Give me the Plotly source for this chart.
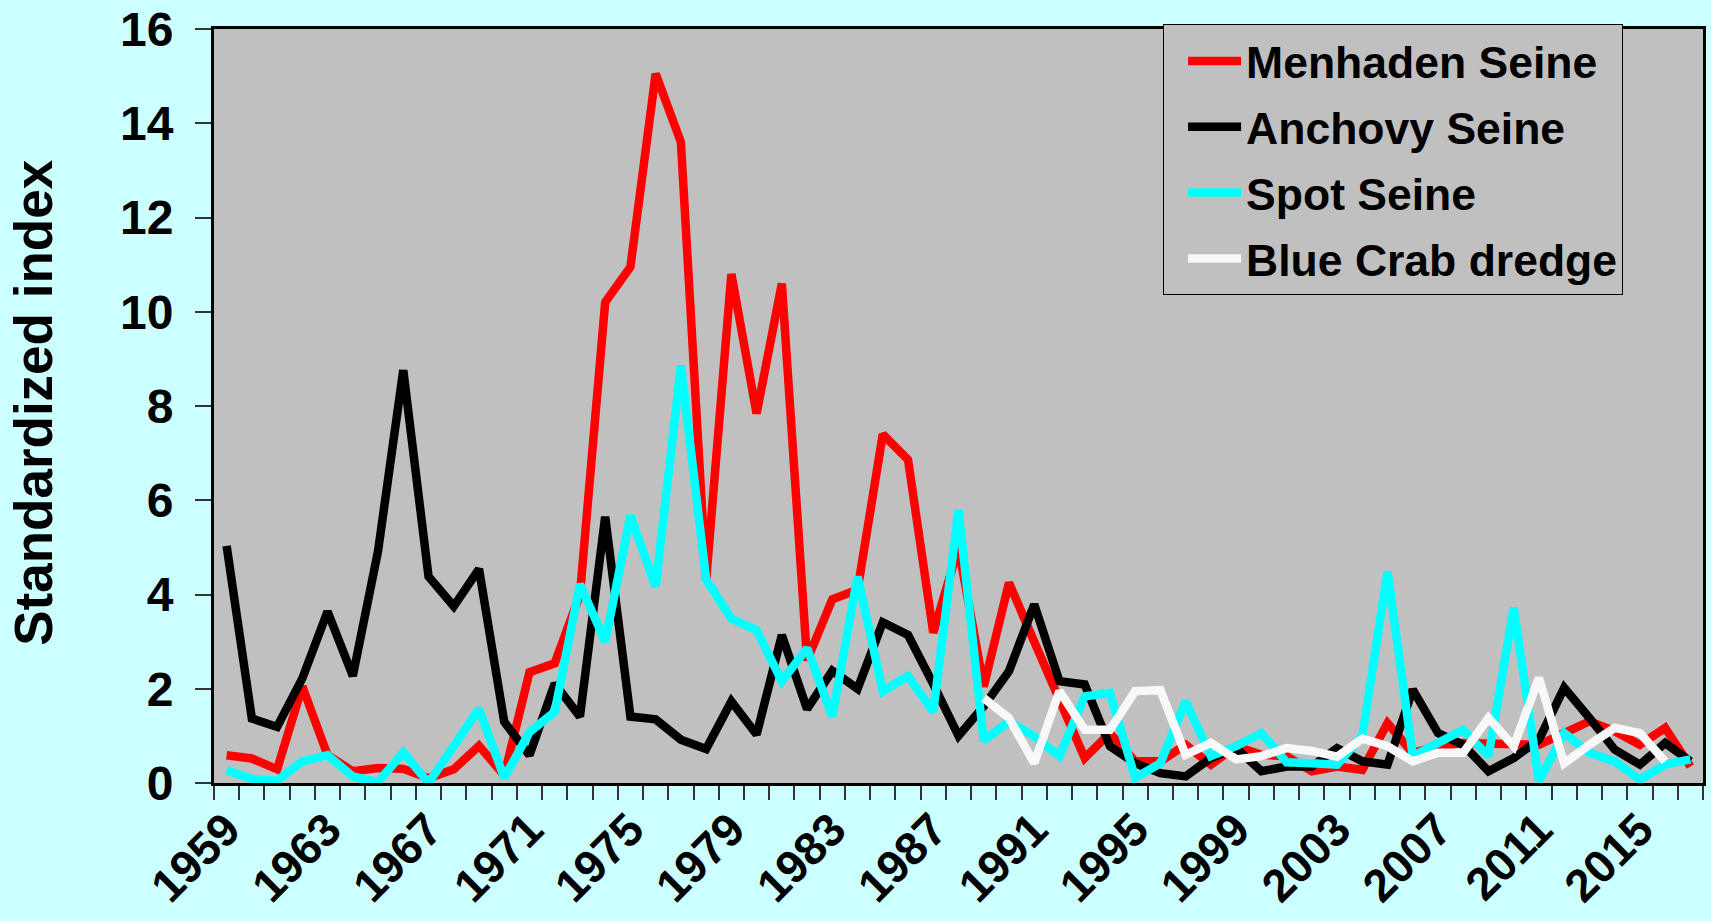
import plotly.graph_objects as go

years = [1959, 1960, 1961, 1962, 1963, 1964, 1965, 1966, 1967, 1968,
         1969, 1970, 1971, 1972, 1973, 1974, 1975, 1976, 1977, 1978,
         1979, 1980, 1981, 1982, 1983, 1984, 1985, 1986, 1987, 1988,
         1989, 1990, 1991, 1992, 1993, 1994, 1995, 1996, 1997, 1998,
         1999, 2000, 2001, 2002, 2003, 2004, 2005, 2006, 2007, 2008,
         2009, 2010, 2011, 2012, 2013, 2014, 2015, 2016, 2017]

menhaden = [0.59, 0.52, 0.29, 2.05, 0.59, 0.25, 0.32, 0.30, 0.10, 0.29,
            0.79, 0.16, 2.35, 2.54, 4.0, 10.2, 10.95, 15.05, 13.6, 4.3,
            10.8, 7.84, 10.6, 2.6, 3.9, 4.1, 7.4, 6.86, 3.19, 5.0,
            2.05, 4.25, 3.0, 1.8, 0.53, 1.06, 0.46, 0.46, 0.81, 0.39,
            0.78, 0.6, 0.57, 0.25, 0.35, 0.28, 1.27, 0.64, 0.78, 0.85,
            0.85, 0.85, 0.81, 1.06, 1.31, 1.1, 0.81, 1.17, 0.35]

anchovy = [5.03, 1.37, 1.19, 2.22, 3.64, 2.27, 4.92, 8.76, 4.38, 3.75,
           4.54, 1.30, 0.59, 2.11, 1.41, 5.65, 1.41, 1.35, 0.92, 0.72,
           1.73, 1.03, 3.14, 1.57, 2.38, 2.0, 3.41, 3.14, 2.1, 1.0,
           1.63, 2.37, 3.79, 2.16, 2.09, 0.78, 0.42, 0.21, 0.14, 0.53,
           0.74, 0.25, 0.35, 0.35, 0.74, 0.46, 0.39, 1.98, 1.06, 0.81,
           0.25, 0.53, 0.92, 2.02, 1.38, 0.71, 0.39, 0.85, 0.46]

spot = [0.27, 0.09, 0.05, 0.46, 0.59, 0.14, 0.02, 0.65, 0.0, 0.81,
        1.57, 0.11, 1.08, 1.51, 4.22, 3.0, 5.68, 4.16, 8.86, 4.32,
        3.49, 3.24, 2.16, 2.86, 1.41, 4.38, 1.95, 2.27, 1.51, 5.8,
        0.9, 1.31, 0.99, 0.57, 1.84, 1.91, 0.11, 0.42, 1.73, 0.57,
        0.78, 1.06, 0.44, 0.42, 0.39, 1.0, 4.49, 0.57, 0.85, 1.13,
        0.57, 3.72, 0.04, 1.06, 0.64, 0.46, 0.07, 0.39, 0.5]

crab_years = [1989, 1990, 1991, 1992, 1993, 1994, 1995, 1996, 1997, 1998,
              1999, 2000, 2001, 2002, 2003, 2004, 2005, 2006, 2007, 2008,
              2009, 2010, 2011, 2012, 2013, 2014, 2015, 2016]
blue_crab = [1.80, 1.38, 0.42, 1.95, 1.13, 1.13, 1.95, 1.97, 0.6, 0.85,
             0.5, 0.57, 0.74, 0.68, 0.56, 0.94, 0.78, 0.46, 0.64, 0.64,
             1.38, 0.78, 2.23, 0.42, 0.81, 1.17, 1.06, 0.46]

tick_years = [1959, 1963, 1967, 1971, 1975, 1979, 1983, 1987, 1991, 1995,
              1999, 2003, 2007, 2011, 2015]
tick_labels = [str(y) for y in tick_years]
y_ticks = [0, 2, 4, 6, 8, 10, 12, 14, 16]

FONT = "Arial, Liberation Sans, sans-serif"
LW = 8.5

fig = go.Figure()
series = [
    ("Menhaden Seine", years, menhaden, "#FF0000"),
    ("Anchovy Seine", years, anchovy, "#000000"),
    ("Spot Seine", years, spot, "#00FFFF"),
    ("Blue Crab dredge", crab_years, blue_crab, "#F8F8F8"),
]
for i, (name, xs, ys, col) in enumerate(series):
    fig.add_trace(go.Scatter(x=xs, y=ys, name=name, mode="lines",
                             line=dict(color=col, width=LW),
                             legendgroup=str(i)))

fig.update_layout(
    width=1711, height=921,
    paper_bgcolor="#CCFFFF",
    plot_bgcolor="#C0C0C0",
    margin=dict(l=214, r=8, t=29, b=138, autoexpand=False),
    font=dict(family=FONT, size=42, color="black"),
    showlegend=True,
    legend=dict(
        x=0.6374, y=1.006, xanchor="left", yanchor="top",
        bgcolor="#C0C0C0", bordercolor="#000000", borderwidth=1,
        font=dict(family=FONT, size=44.5, color="black", weight="bold"),
        tracegroupgap=5, itemwidth=53, indentation=19,
        traceorder="grouped",
    ),
    xaxis=dict(
        range=[1958.5, 2017.5], automargin=False,
        tickmode="array", tickvals=tick_years, ticktext=tick_labels,
        tickangle=-45, ticks="",
        tickfont=dict(family=FONT, size=46, color="black", weight="bold"),
        ticklabelstandoff=-2,
        showgrid=False, zeroline=False,
        showline=True, linecolor="black", linewidth=3, mirror=True,
        minor=dict(tickmode="linear", tick0=1958.5, dtick=1,
                   ticks="outside", ticklen=14, tickwidth=1.5,
                   tickcolor="#333333", showgrid=False),
    ),
    yaxis=dict(
        range=[0, 16], tickmode="array", tickvals=y_ticks, automargin=False,
        ticks="outside", ticklen=16, tickwidth=1.5, tickcolor="#333333",
        tickfont=dict(family=FONT, size=48, color="black", weight="bold"),
        ticklabelstandoff=12,
        showgrid=False, zeroline=False,
        showline=True, linecolor="black", linewidth=3, mirror=True,
    ),
)

fig.add_annotation(
    text="Standardized index", xref="paper", yref="paper",
    x=-0.121, y=0.504, xanchor="center", yanchor="middle",
    textangle=-90, showarrow=False,
    font=dict(family=FONT, size=53, color="black", weight="bold"),
)

fig.write_html(
    "out.html",
    config={"displayModeBar": False},
    post_script="document.body.style.margin='0';"
                "document.body.style.background='#CCFFFF';",
)
